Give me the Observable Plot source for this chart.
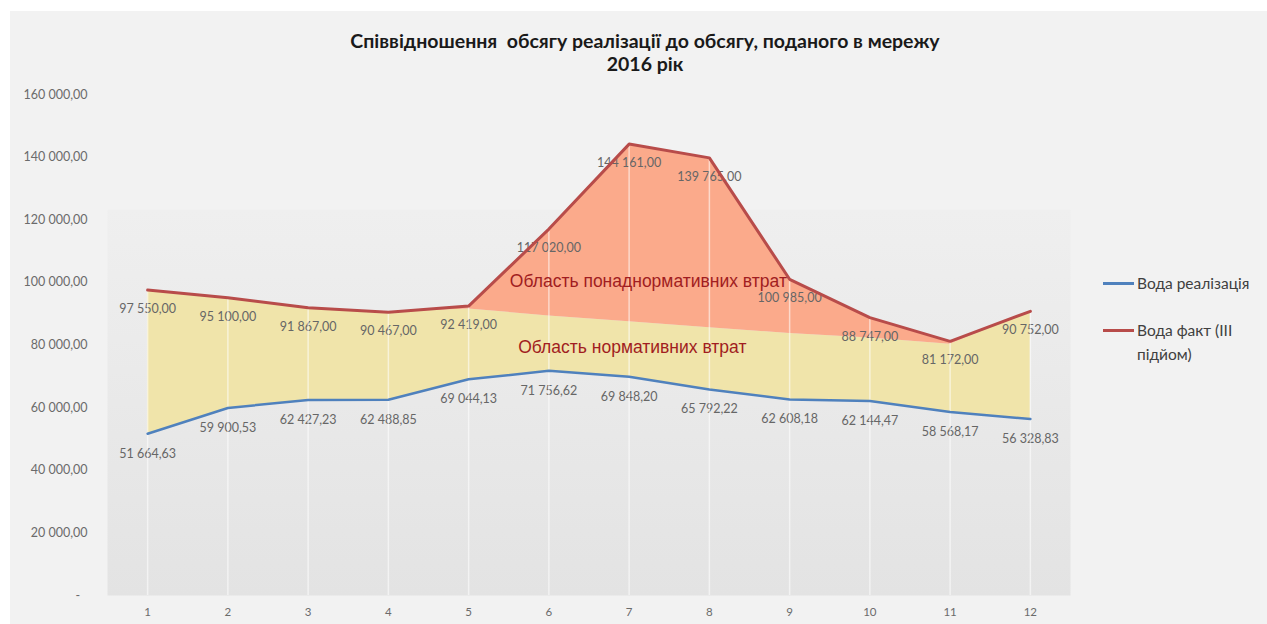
<!DOCTYPE html>
<html>
<head>
<meta charset="utf-8">
<script src="https://cdn.jsdelivr.net/npm/d3@7"></script>
<script src="https://cdn.jsdelivr.net/npm/@observablehq/plot@0.6"></script>
<style>
  body { margin: 0; background: #ffffff; }
  #wrap { position: relative; width: 1267px; height: 624px; overflow: hidden; }
  #bg { position: absolute; left: 10px; top: 11px; right: 0; bottom: 0; background: #f2f2f2; }
  #chart { position: absolute; left: 0; top: 0; }
  #title { position: absolute; left: 0; width: 1290px; top: 29px; text-align: center;
           font: bold 19.5px Lato, sans-serif; color: #1a1a1a; line-height: 23px; }
  .lg { position: absolute; left: 1103px; font: 15.5px Lato, sans-serif; color: #404040; line-height: 24px; }
  .lg .sw { position: absolute; left: 0; top: 11px; width: 31px; height: 3px; }
  .lg .tx { position: absolute; left: 34px; top: 0; white-space: nowrap; }
</style>
</head>
<body>
<div id="wrap">
  <div id="bg"></div>
  <div id="chart"></div>
  <div id="title"></div>
  <div id="legend"></div>
</div>
<script>
// ---- data ----
const months = [1, 2, 3, 4, 5, 6, 7, 8, 9, 10, 11, 12];
const realization = [51664.63, 59900.53, 62427.23, 62488.85, 69044.13, 71756.62, 69848.20, 65792.22, 62608.18, 62144.47, 58568.17, 56328.83];
const actual = [97550, 95100, 91867, 90467, 92419, 117020, 144161, 139765, 100985, 88747, 81172, 90752];
const normativeTop = [97550, 95100, 91867, 90467, 91500, 89300, 87400, 85500, 83700, 82200, 80200, 90752];
const yTicks = [0, 20000, 40000, 60000, 80000, 100000, 120000, 140000, 160000];
const seriesNames = ["Вода реалізація", "Вода факт (III<br>підйом)"];
const seriesColors = ["#4f81bd", "#b84c4a"];
const legendTops = [271, 318];
const areaLabels = ["Область понаднормативних втрат", "Область нормативних втрат"];
const areaLabelX = [7.24, 7.04];
const areaLabelY = [100300, 79200];
const titleLines = ["Співвідношення&nbsp; обсягу реалізації до обсягу, поданого в мережу", "2016 рік"];

// ---- build ----
const rows = months.map((m, i) => ({ m, real: realization[i], act: actual[i], norm: normativeTop[i] }));
const fmt = d3.formatLocale({ decimal: ",", thousands: "\u00a0", grouping: [3], currency: ["", ""] }).format(",.2f");
const yfmt = d => d === 0 ? "-\u2007" : fmt(d);

const chart = Plot.plot({
  width: 1267, height: 624,
  marginTop: 94, marginBottom: 29, marginLeft: 107, marginRight: 197,
  style: { background: "transparent", fontFamily: "Lato, sans-serif", color: "#6b6b6b" },
  x: { domain: [0.5, 12.5], label: null },
  y: { domain: [0, 160000], label: null },
  marks: [
    Plot.frame({ fill: "url(#plotGrad)", stroke: null }),
    Plot.areaY(rows, { x: "m", y1: "real", y2: "norm", fill: "#f0e4aa" }),
    Plot.areaY(rows, { x: "m", y1: "norm", y2: "act", fill: "#fbaa8b" }),
    Plot.text(rows, { x: "m", y: "act", text: d => fmt(d.act), dy: 19, fill: "#666666", fontSize: 12.5 }),
    Plot.text(rows, { x: "m", y: "real", text: d => fmt(d.real), dy: 20, fill: "#666666", fontSize: 12.5 }),
    Plot.ruleX(rows, { x: "m", y1: 0, y2: d => Math.max(d.act, d.real), stroke: "#ffffff", strokeOpacity: 0.55, strokeWidth: 1.5 }),
    Plot.line(rows, { x: "m", y: "real", stroke: seriesColors[0], strokeWidth: 2.5 }),
    Plot.line(rows, { x: "m", y: "act", stroke: seriesColors[1], strokeWidth: 3 }),
    Plot.text(areaLabels, { x: (d, i) => areaLabelX[i], y: (d, i) => areaLabelY[i], text: d => d,
      fill: "#a11d21", fontSize: 17.5, fontFamily: "Liberation Sans, Arial, sans-serif" }),
    Plot.axisY(yTicks, { tickFormat: yfmt, tickSize: 0, tickPadding: 20, fontSize: 12.5 }),
    Plot.axisX(months, { tickFormat: d => String(d), tickSize: 0, tickPadding: 12, fontSize: 11.5 })
  ]
});
chart.insertAdjacentHTML("afterbegin",
  `<defs><linearGradient id="plotGrad" x1="0" y1="0" x2="0" y2="1">
     <stop offset="0" stop-color="#f2f2f2" stop-opacity="0"/>
     <stop offset="0.229" stop-color="#f2f2f2" stop-opacity="0"/>
     <stop offset="0.23" stop-color="#efefef" stop-opacity="1"/>
     <stop offset="1" stop-color="#e3e3e3" stop-opacity="1"/>
   </linearGradient></defs>`);
document.getElementById("chart").appendChild(chart);

document.getElementById("title").innerHTML = titleLines.join("<br>");

const lg = document.getElementById("legend");
seriesNames.forEach((name, i) => {
  const d = document.createElement("div");
  d.className = "lg";
  d.style.top = legendTops[i] + "px";
  d.innerHTML = `<span class="sw" style="background:${seriesColors[i]}"></span><span class="tx">${name}</span>`;
  lg.appendChild(d);
});
</script>
</body>
</html>
